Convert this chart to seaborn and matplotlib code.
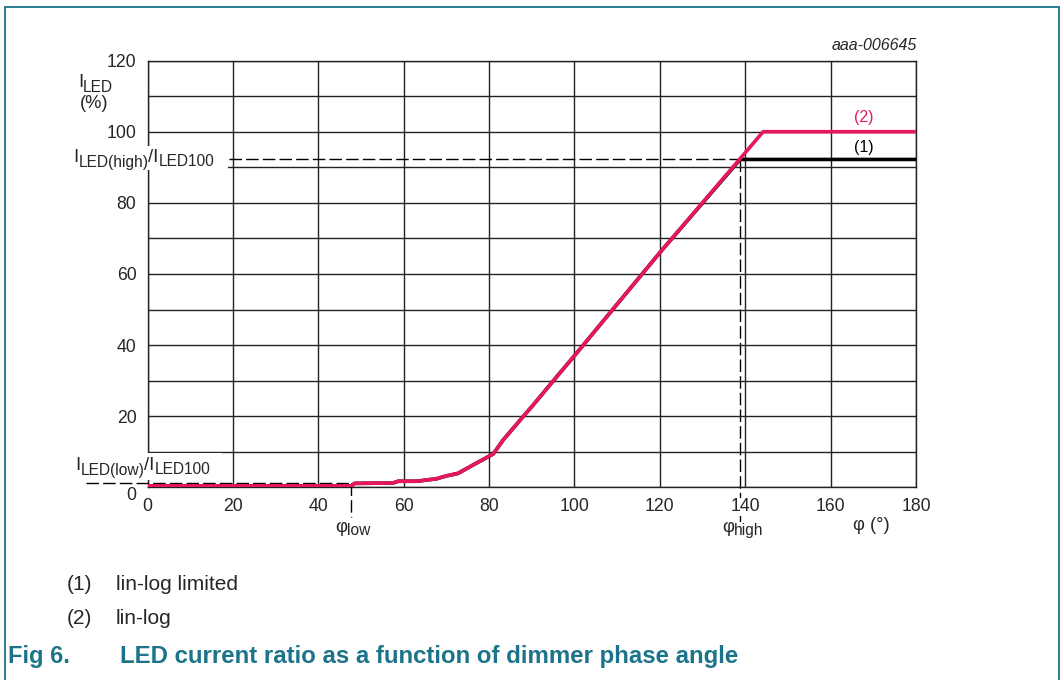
"""LED current ratio as a function of dimmer phase angle."""

import matplotlib.pyplot as plt
import numpy as np
import pandas as pd
import seaborn as sns
from matplotlib.lines import Line2D

sns.set_style("white")
plt.rcParams["font.family"] = ["Liberation Sans", "DejaVu Sans"]

TEAL = "#1b7489"
RED = "#e8175d"

# lin-log curve (2), phase angle in degrees vs I_LED in %
phase_lin_log = [0, 47.7, 48.5, 57.5, 58.7, 63.0, 67.7, 70.0, 72.7, 76.3,
                 81.0, 83.3, 88.0, 90.3, 96.2, 100.0, 120.0, 144.2, 180.0]
iled_lin_log = [0.4, 0.4, 1.1, 1.2, 1.7, 1.7, 2.4, 3.2, 3.9, 6.3,
                9.4, 13.3, 19.9, 23.1, 31.6, 37.0, 66.0, 100.0, 100.0]

# lin-log limited curve (1): same curve, clamped at I_LED(high)
phi_low = 47.7
phi_high = 138.8
iled_low = 1.3
iled_high = 92.2

x_ticks = [0, 20, 40, 60, 80, 100, 120, 140, 160, 180]
y_ticks = [0, 20, 40, 60, 80, 100, 120]

W, H = 1061, 680


def fx(px):
    return px / W


def fy(py):
    return 1 - py / H


df_loglin = pd.DataFrame({"phi": phase_lin_log, "iled": iled_lin_log})
lim_phi = [p for p in phase_lin_log if p < phi_high] + [phi_high, 180.0]
lim_iled = list(np.interp(lim_phi, phase_lin_log, iled_lin_log))
lim_iled = [min(v, iled_high) for v in lim_iled]
df_limited = pd.DataFrame({"phi": lim_phi, "iled": lim_iled})

fig = plt.figure(figsize=(W / 100, H / 100), dpi=100)
ax = fig.add_axes([fx(147.5), fy(487.3), (916 - 147.5) / W, (487.3 - 60.6) / H])

sns.lineplot(data=df_limited, x="phi", y="iled", ax=ax, color="black",
             linewidth=2.6, zorder=4, estimator=None, sort=False)
sns.lineplot(data=df_loglin, x="phi", y="iled", ax=ax, color=RED,
             linewidth=2.6, zorder=5, estimator=None, sort=False)

ax.set_xlim(0, 180)
ax.set_ylim(0, 120)
ax.set_xticks(x_ticks)
ax.set_yticks(y_ticks)
ax.set_yticks(range(10, 120, 20), minor=True)
ax.grid(which="both", color="#222222", linewidth=1.0, zorder=1)
ax.set_axisbelow(True)
ax.tick_params(which="both", length=0, labelsize=12.7, pad=8)
ax.set_xlabel("")
ax.set_ylabel("")
for spine in ax.spines.values():
    spine.set_color("#222222")
    spine.set_linewidth(1.0)

ax.set_yticklabels([str(v) for v in y_ticks])
ax.get_yticklabels()[0].set_va("top")
for lab in ax.get_xticklabels():
    lab.set_bbox(dict(facecolor="white", edgecolor="none", pad=0.5))

# dashed reference lines
dash = (0, (9, 3))
ax.plot([-14.4, phi_low], [iled_low, iled_low], color="black", lw=1.0,
        ls=dash, clip_on=False, zorder=3)
ax.plot([phi_low, phi_low], [iled_low, -8.4], color="black", lw=1.0,
        ls=dash, clip_on=False, zorder=3)
ax.plot([-16, phi_high], [iled_high, iled_high], color="black", lw=1.0,
        ls=dash, clip_on=False, zorder=3)
ax.plot([phi_high, phi_high], [iled_high, -9.8], color="black", lw=1.0,
        ls=dash, clip_on=False, zorder=0)

# curve labels
ax.text(167.8, 103.9, "(2)", color=RED, fontsize=11.5, ha="center", va="center")
ax.text(167.8, 95.7, "(1)", color="black", fontsize=11.5, ha="center", va="center")


def compose(px, py, parts, size=13.4, sub_size=11.2, drop=4.5, box=None):
    """Place text pieces side by side; subscript pieces are smaller and lower."""
    items = []
    for text, is_sub in parts:
        fs = sub_size if is_sub else size
        dy = -drop if is_sub else 0
        t = fig.text(0, 0, text, fontsize=fs, ha="left", va="baseline", zorder=10)
        items.append((t, dy))
    fig.canvas.draw()
    rend = fig.canvas.get_renderer()
    x = px
    for t, dy in items:
        t.set_position((fx(x), fy(py) + dy / H))
        x += t.get_window_extent(rend).width
    if box is not None:
        x0, x1, y0, y1 = box
        fig.patches.append(plt.Rectangle((fx(x0), fy(y1)), (x1 - x0) / W,
                                         (y1 - y0) / H, transform=fig.transFigure,
                                         facecolor="white", edgecolor="none",
                                         zorder=9))


# axis annotations
compose(78, 87, [("I", False), ("LED", True)])
fig.text(fx(94), fy(104), "(%)", fontsize=13.2, ha="center", va="center")
compose(73, 162, [("I", False), ("LED(high)", True), ("/I", False), ("LED100", True)],
        box=(70, 228, 146, 170))
compose(75, 470, [("I", False), ("LED(low)", True), ("/I", False), ("LED100", True)],
        box=(72, 222, 453, 480))
compose(335, 532, [("φ", False), ("low", True)], drop=3)
compose(722, 532, [("φ", False), ("high", True)], drop=3)
fig.text(fx(871), fy(526), "φ (°)", fontsize=13.2, ha="center", va="center")
fig.text(fx(917), fy(46), "aaa-006645", fontsize=11.5, style="italic",
         ha="right", va="center")

# notes and caption
fig.text(fx(67), fy(584), "(1)", fontsize=15, ha="left", va="center")
fig.text(fx(116), fy(584), "lin-log limited", fontsize=15, ha="left", va="center")
fig.text(fx(67), fy(619), "(2)", fontsize=15, ha="left", va="center")
fig.text(fx(116), fy(619), "lin-log", fontsize=15, ha="left", va="center")
fig.text(fx(8), fy(656), "Fig 6.", fontsize=17, weight="bold", color=TEAL,
         ha="left", va="center")
fig.text(fx(120), fy(656), "LED current ratio as a function of dimmer phase angle",
         fontsize=17.3, weight="bold", color=TEAL, ha="left", va="center")

# page frame
for xs, ys in [([5, 5], [7, H]), ([5, 1059], [7, 7]), ([1059, 1059], [7, H])]:
    fig.add_artist(Line2D([fx(x) for x in xs], [fy(y) for y in ys],
                          color=TEAL, linewidth=1.3))

fig.savefig("out.png", dpi=100)
